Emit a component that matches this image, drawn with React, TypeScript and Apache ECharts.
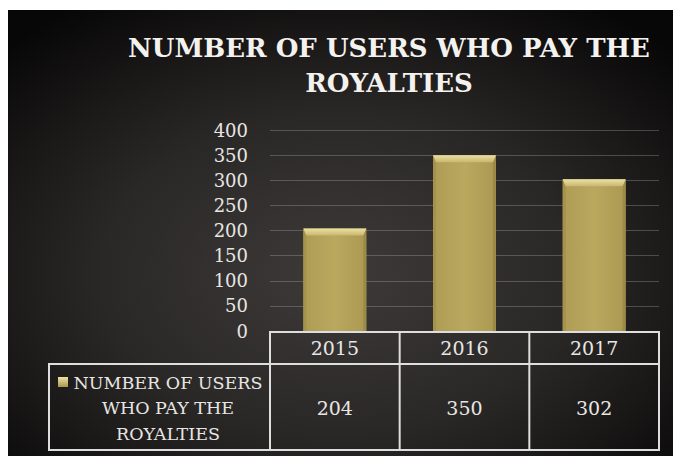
import React, { useEffect, useRef } from 'react';
import * as echarts from 'echarts';

const titleText = 'NUMBER OF USERS WHO PAY THE\nROYALTIES';
const seriesName = 'NUMBER OF USERS WHO PAY THE ROYALTIES';
const legendLines = ['NUMBER OF USERS', 'WHO PAY THE', 'ROYALTIES'];
const years = ['2015', '2016', '2017'];
const users = [204, 350, 302];
const yMin = 0;
const yMax = 400;
const yStep = 50;

export default function App() {
  const ref = useRef<HTMLDivElement>(null);
  useEffect(() => {
    const chart = echarts.init(ref.current as HTMLDivElement, null, { renderer: 'svg' });
    const W = 673, H = 456;
    const gl = 270, gr = 14, gt = 130, gb = 125;
    const plotW = W - gl - gr;
    const catW = plotW / years.length;
    const axisY = H - gb;
    const rowTop = 364, rowBot = 450, tableLeft = 49;
    const lineColor = '#dedede';
    const textColor = '#e8e6e3';
    const font = 'DejaVu Serif';
    const graphics: any[] = [];
    graphics.push({ type: 'rect', shape: { x: 0, y: 0, width: W, height: 10 }, style: { fill: '#ffffff' }, z: 200 });
    graphics.push({ type: 'rect', shape: { x: 0, y: 0, width: 8, height: H }, style: { fill: '#ffffff' }, z: 200 });
    const hline = (x1: number, x2: number, y: number) => ({ type: 'line', shape: { x1, y1: y, x2, y2: y }, style: { stroke: lineColor, lineWidth: 2 }, z: 100 });
    const vline = (x: number, y1: number, y2: number) => ({ type: 'line', shape: { x1: x, y1, x2: x, y2 }, style: { stroke: lineColor, lineWidth: 2 }, z: 100 });
    graphics.push(hline(gl - 1, W - gr, axisY + 1));
    graphics.push(hline(tableLeft, W - gr, rowTop));
    graphics.push(hline(tableLeft, W - gr, rowBot));
    for (let i = 0; i <= years.length; i++) {
      graphics.push(vline(gl + i * catW, axisY, rowBot + 1));
    }
    graphics.push(vline(tableLeft, rowTop - 1, rowBot + 1));
    users.forEach((v, i) => {
      graphics.push({
        type: 'text', z: 100,
        style: { text: String(v), x: gl + (i + 0.5) * catW, y: (rowTop + rowBot) / 2 + 1, align: 'center', verticalAlign: 'middle', fill: textColor, fontSize: 19, fontFamily: font },
      });
    });
    graphics.push({
      type: 'rect', z: 100, shape: { x: 58, y: 377, width: 10, height: 10 },
      style: { fill: new echarts.graphic.LinearGradient(0, 0, 0, 1, [{ offset: 0, color: '#efe2a4' }, { offset: 1, color: '#a8964f' }]) },
    });
    graphics.push({
      type: 'text', z: 100,
      style: { text: legendLines.join('\n'), x: 168, y: 408, align: 'center', verticalAlign: 'middle', fill: textColor, fontSize: 17.5, lineHeight: 25.5, fontFamily: font },
    });
    graphics.push({
      type: 'text', z: 100,
      style: { text: titleText, x: 389, y: 65, align: 'center', verticalAlign: 'middle', fill: '#f4f2ef', fontSize: 26, fontWeight: 'bold', lineHeight: 35, fontFamily: font },
    });

    const renderItem = (params: any, api: any) => {
      const idx = api.value(0);
      const v = api.value(1);
      const top = api.coord([idx, v]);
      const bot = api.coord([idx, 0]);
      const w = api.size([1, 0])[0] * 0.485;
      const x = top[0] - w / 2;
      const y = top[1];
      const h = bot[1] - top[1];
      const b = 7;
      const s = 3;
      return {
        type: 'group',
        children: [
          {
            type: 'rect', shape: { x, y, width: w, height: h },
            style: { fill: new echarts.graphic.LinearGradient(0, 0, 1, 0, [{ offset: 0, color: '#ae9b55' }, { offset: 0.5, color: '#bba85f' }, { offset: 1, color: '#ab9852' }]) },
          },
          {
            type: 'polygon', shape: { points: [[x, y], [x + s, y + b], [x + s, y + h], [x, y + h]] },
            style: { fill: '#a4934d' },
          },
          {
            type: 'polygon', shape: { points: [[x + w, y], [x + w - s, y + b], [x + w - s, y + h], [x + w, y + h]] },
            style: { fill: '#9c8b47' },
          },
          {
            type: 'polygon', shape: { points: [[x, y], [x + w, y], [x + w - s, y + b], [x + s, y + b]] },
            style: { fill: new echarts.graphic.LinearGradient(0, 0, 0, 1, [{ offset: 0, color: '#ece1a4' }, { offset: 1, color: '#c8b76f' }]) },
          },
        ],
      };
    };

    chart.setOption({
      animation: false,
      backgroundColor: new echarts.graphic.RadialGradient(0.5, 0.6, 0.7, [
        { offset: 0, color: '#3d3a38' },
        { offset: 0.5, color: '#2a2827' },
        { offset: 1, color: '#080707' },
      ]),
      grid: { left: gl, right: gr, top: gt, bottom: gb },
      xAxis: {
        type: 'category',
        data: years,
        axisLine: { show: false },
        axisTick: { show: false },
        axisLabel: { margin: 17, verticalAlign: 'middle', color: textColor, fontSize: 19, fontFamily: font },
      },
      yAxis: {
        type: 'value',
        min: yMin,
        max: yMax,
        interval: yStep,
        axisLine: { show: false },
        axisTick: { show: false },
        axisLabel: { margin: 22, color: textColor, fontSize: 18, fontFamily: font },
        splitLine: { lineStyle: { color: 'rgba(190,190,190,0.3)', width: 1 } },
      },
      series: [
        {
          type: 'custom',
          name: seriesName,
          data: users.map((v, i) => [i, v]),
          encode: { x: 0, y: 1 },
          renderItem,
        },
      ],
      graphic: graphics,
    });
    return () => chart.dispose();
  }, []);
  return <div ref={ref} style={{ position: 'absolute', left: 0, top: 0, width: 673, height: 456 }} />;
}
